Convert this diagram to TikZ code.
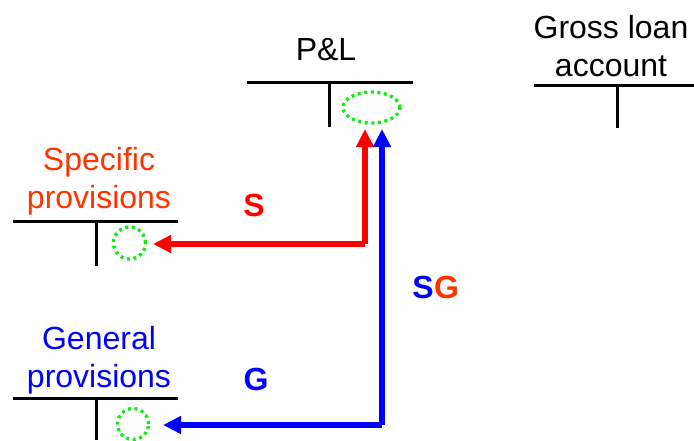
\documentclass[tikz,border=0pt]{standalone}
\usepackage{fontspec}
\setmainfont{Liberation Sans}
\usetikzlibrary{arrows.meta,shapes.geometric}
\definecolor{specc}{RGB}{255,51,0}
\definecolor{arred}{RGB}{255,0,0}
\definecolor{arblue}{RGB}{0,0,255}
\definecolor{dotgreen}{RGB}{20,235,20}
\tikzset{
  lbl/.style={font=\fontsize{32}{38}\selectfont, anchor=base, inner sep=0pt},
  bigl/.style={font=\fontsize{32}{38}\selectfont\bfseries, anchor=base, inner sep=0pt},
  tacc/.style={draw=black, line width=3pt},
  marker/.style={draw=dotgreen, line width=3.4pt, dash pattern=on 3pt off 3.6pt, inner sep=0pt},
  flow/.style={line width=5.5pt, line join=miter, -{Triangle[length=18pt,width=17pt]}},
}
\begin{document}
\begin{tikzpicture}[x=1pt,y=-1pt]
\useasboundingbox (0,0) rectangle (694,440);
% P&L
\node[lbl] (pltxt) at (326,60) {P\&L};
\draw[tacc] (247,82) -- (413,82);
\draw[tacc] (329,82) -- (329,127);
\node[marker, ellipse, minimum width=57pt, minimum height=31pt] (plm) at (371.5,107.5) {};
% Gross loan account
\node[lbl] (g1) at (611,38) {Gross loan};
\node[lbl] (g2) at (611,76) {account};
\draw[tacc] (534,85) -- (694,85);
\draw[tacc] (617,85) -- (617,128);
% Specific provisions
\node[lbl, text=specc] (s1) at (99,170) {Specific};
\node[lbl, text=specc] (s2) at (99,208) {provisions};
\draw[tacc] (13,221) -- (178,221);
\draw[tacc] (96,221) -- (96,266);
\node[marker, circle, minimum size=32pt] (spm) at (129.5,243) {};
% General provisions
\node[lbl, text=arblue] (gp1) at (99,349) {General};
\node[lbl, text=arblue] (gp2) at (99,387) {provisions};
\draw[tacc] (13,398) -- (178,398);
\draw[tacc] (96,398) -- (96,440);
\node[marker, circle, minimum size=31pt] (gpm) at (133,424) {};
% arrows
\coordinate (rc) at (365,244);
\coordinate (rt) at (365,129);
\coordinate (rl) at (153,244);
\coordinate (bc) at (382,425);
\coordinate (bt) at (382,129);
\coordinate (bl) at (163,425);
\draw[flow, arred] (rc) -- (rt);
\draw[flow, arred] (rc) -- (rl);
\draw[flow, arblue] (bc) -- (bt);
\draw[flow, arblue] (bc) -- (bl);
% labels
\node[bigl, text=arred] (ls) at (254,216) {S};
\node[bigl, anchor=base east, text=arblue] (lsg1) at (434,298) {S};
\node[bigl, anchor=base west, text=specc] (lsg2) at (lsg1.base east) {G};
\node[bigl, text=arblue] (lg) at (256,390) {G};
\end{tikzpicture}
\end{document}
